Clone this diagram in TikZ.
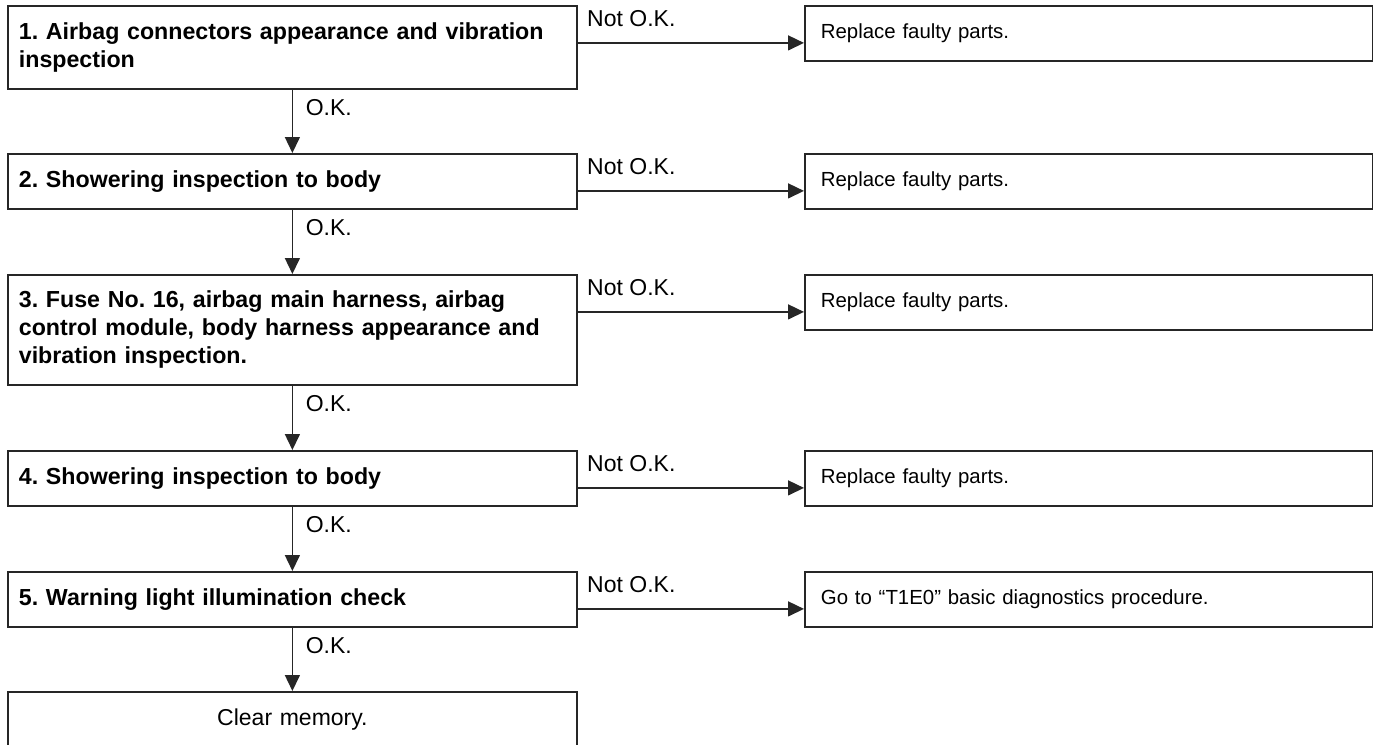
\documentclass[tikz,border=0pt]{standalone}
\usepackage{fontspec}
\setmainfont{Liberation Sans}
\usetikzlibrary{arrows.meta}
\frenchspacing

\begin{document}
\begin{tikzpicture}[x=0.5pt, y=-0.5pt,
  nodes={font=\fontsize{11.5}{14}\selectfont},
  stepbox/.style={draw=black!85, line width=0.9pt, anchor=north west, align=left,
    font=\fontsize{11.6}{14}\selectfont\bfseries, text width=273.5pt, inner xsep=5.5pt},
  fixbox/.style={draw=black!85, line width=0.9pt, anchor=north west, align=left,
    font=\fontsize{10.2}{12}\selectfont, text width=268pt, inner xsep=8pt, minimum height=27.5pt},
  arr/.style={draw=black!85, line width=0.75pt, -{Triangle[length=8pt, width=7.5pt]}},
  nok/.style={anchor=west, xshift=1pt, yshift=12pt},
  ok/.style={anchor=west, xshift=3pt, yshift=-9pt}]
  \useasboundingbox (0,0) rectangle (1373,745);

  % inspection steps
  \node[stepbox, minimum height=41.5pt] (s1) at (7,5) {1. Airbag connectors appearance and vibration\\inspection};
  \node[stepbox, minimum height=27.5pt] (s2) at (7,153) {2. Showering inspection to body};
  \node[stepbox, minimum height=55pt] (s3) at (7,274) {3. Fuse No. 16, airbag main harness, airbag\\control module, body harness appearance and\\vibration inspection.};
  \node[stepbox, minimum height=27.5pt] (s4) at (7,450) {4. Showering inspection to body};
  \node[stepbox, minimum height=27.5pt] (s5) at (7,571) {5. Warning light illumination check};
  \node[stepbox, minimum height=28pt, align=center, font=\fontsize{11.5}{14}\selectfont] (s6) at (7,691) {Clear memory.};

  % what to do when not O.K.
  \node[fixbox] (r1) at (804,5) {Replace faulty parts.};
  \node[fixbox] (r2) at (804,153) {Replace faulty parts.};
  \node[fixbox] (r3) at (804,274) {Replace faulty parts.};
  \node[fixbox] (r4) at (804,450) {Replace faulty parts.};
  \node[fixbox] (r5) at (804,571) {Go to “T1E0” basic diagnostics procedure.};

  \foreach \i in {1,...,5} {
    \coordinate (n\i) at ([yshift=-4.75pt]r\i.west);
    \draw[arr] (s\i.east |- n\i) node[nok] {Not O.K.} -- (n\i);
  }
  \foreach \i/\j in {1/2,2/3,3/4,4/5,5/6}
    \draw[arr] (s\i.south) node[ok] {O.K.} -- (s\j.north);
\end{tikzpicture}
\end{document}
